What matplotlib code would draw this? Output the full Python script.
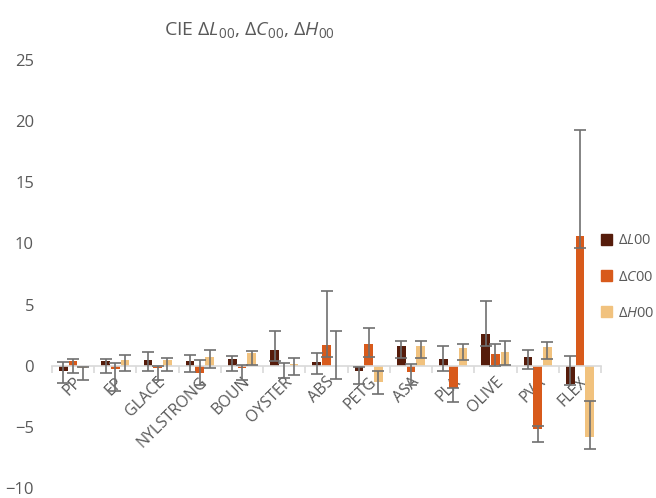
import numpy as np
import matplotlib
matplotlib.use("Agg")
import matplotlib.pyplot as plt
from matplotlib.patches import Patch

plt.rcParams['font.family'] = ['Open Sans', 'DejaVu Sans']
plt.rcParams['mathtext.fontset'] = 'custom'
plt.rcParams['mathtext.rm'] = 'Open Sans'
plt.rcParams['mathtext.it'] = 'Open Sans:italic'

# materials
categories = ["PP", "EP", "GLACE", "NYLSTRONG", "BOUN", "OYSTER", "ABS",
              "PETG", "ASA", "PLA", "OLIVE", "PVA", "FLEX"]

# dL00 / dC00 / dH00 values, with the low and high ends of the error bars
dL = [-0.4, 0.35, 0.5, 0.4, 0.55, 1.3, 0.3, -0.45, 1.6, 0.55, 2.6, 0.7, -1.5]
dL_low = [-1.45, -0.6, -0.4, -0.5, -0.4, 0.35, -0.7, -1.5, 0.6, -0.4, 1.6, -0.25, -1.55]
dL_high = [0.3, 0.55, 1.1, 0.85, 0.8, 2.8, 1.0, -0.1, 2.0, 1.6, 5.3, 1.3, 0.8]

dC = [0.35, -0.25, -0.15, -0.6, -0.15, -0.05, 1.7, 1.75, -0.5, -1.85, 0.95, -5.2, 10.6]
dC_low = [-0.6, -2.1, -1.2, -1.6, -1.2, -1.0, 0.7, 0.75, -1.6, -2.95, 0.0, -6.2, 9.6]
dC_high = [0.55, 0.2, 0.0, 0.5, 0.05, 0.2, 6.1, 3.1, 0.15, -1.85, 1.8, -4.9, 19.3]

dH = [-0.15, 0.5, 0.5, 0.7, 1.0, 0.15, -0.05, -1.3, 1.6, 1.45, 1.1, 1.55, -5.8]
dH_low = [-1.2, -0.4, -0.4, -0.2, 0.05, -0.8, -1.1, -2.35, 0.6, 0.5, 0.05, 0.55, -6.8]
dH_high = [-0.1, 0.9, 0.65, 1.25, 1.2, 0.6, 2.8, -0.45, 2.0, 1.8, 2.05, 1.95, -2.9]

series = [
    (r"$\mathit{\Delta L00}$", dL, dL_low, dL_high, "#561c0b"),
    (r"$\mathit{\Delta C00}$", dC, dC_low, dC_high, "#d85a1b"),
    (r"$\mathit{\Delta H00}$", dH, dH_low, dH_high, "#f1c27e"),
]

txt = "#595959"
fig = plt.figure(figsize=(6.56, 4.98), dpi=100)
ax = fig.add_axes([52 / 656, 1 - 488 / 498, (601 - 52) / 656, 428 / 498])

x = np.arange(len(categories))
w = 0.205
offs = [-0.23, 0.0, 0.23]
handles = []
for (name, v, lo, hi, col), off in zip(series, offs):
    v = np.array(v)
    ax.bar(x + off, v, width=w, color=col, zorder=2)
    yerr = [v - np.array(lo), np.array(hi) - v]
    ax.errorbar(x + off, v, yerr=yerr, fmt='none', ecolor="#707070",
                elinewidth=1.2, capsize=4, capthick=1.2, zorder=3)
    handles.append(Patch(color=col, label=name))

ax.set_xlim(-0.5, len(categories) - 0.5)
ax.set_ylim(-10, 25)
ax.set_yticks(range(-10, 26, 5))

for s in ["top", "right", "left"]:
    ax.spines[s].set_visible(False)
ax.spines["bottom"].set_position(("data", 0))
ax.spines["bottom"].set_color("#d9d9d9")
ax.spines["bottom"].set_linewidth(1.2)

ax.set_xticks(x)
ax.set_xticklabels(categories, rotation=45, ha="right", va="top",
                   rotation_mode="anchor", fontsize=11.5, color=txt)
ax.set_xticks(np.arange(-0.5, len(categories), 1), minor=True)
ax.tick_params(axis="x", which="major", length=0, pad=6)
ax.tick_params(axis="x", which="minor", length=5, color="#d9d9d9", width=1.2)
ax.tick_params(axis="y", length=0, pad=13, labelsize=12, labelcolor=txt)

fig.text(249 / 656, 1 - 30 / 498,
         r"CIE $\mathit{\Delta L_{00}}$, $\mathit{\Delta C_{00}}$, $\mathit{\Delta H_{00}}$",
         ha="center", va="center", fontsize=14, color=txt)

fig.legend(handles=handles, loc="center left", bbox_to_anchor=(588 / 656, 1 - 277 / 498),
           frameon=False, fontsize=10.5, labelcolor=txt, handlelength=0.75,
           handleheight=0.75, handletextpad=0.4, labelspacing=1.45)

fig.savefig("out.png", dpi=100)
